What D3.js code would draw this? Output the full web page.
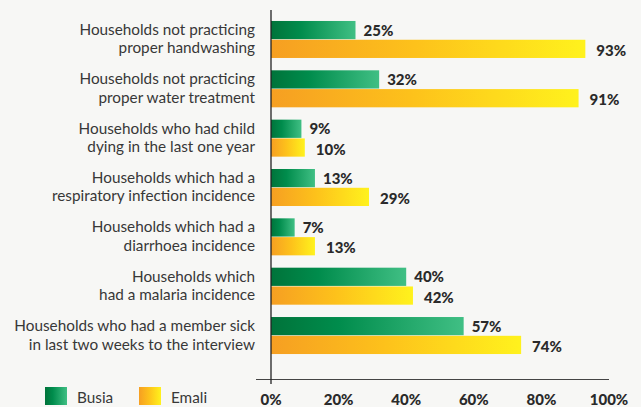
<!DOCTYPE html>
<html>
<head>
<meta charset="utf-8">
<script src="https://cdn.jsdelivr.net/npm/d3@7"></script>
<style>
  html, body { margin: 0; padding: 0; background: #f7f7f5; }
  svg { display: block; }
</style>
</head>
<body>
<script>
// Household health indicators, Busia vs Emali (percent of households)
const categories = [
  ["Households not practicing", "proper handwashing"],
  ["Households not practicing", "proper water treatment"],
  ["Households who had child", "dying in the last one year"],
  ["Households which had a", "respiratory infection incidence"],
  ["Households which had a", "diarrhoea incidence"],
  ["Households which", "had a malaria incidence"],
  ["Households who had a member sick", "in last two weeks to the interview"]
];
const busia = [25, 32, 9, 13, 7, 40, 57];
const emali = [93, 91, 10, 29, 13, 42, 74];
const seriesNames = ["Busia", "Emali"];
const xTicks = [0, 20, 40, 60, 80, 100];

const W = 641, H = 407;
const FONT = "Lato, 'Open Sans', sans-serif";
const TEXT = "#333";

const svg = d3.select("body").append("svg")
  .attr("width", W).attr("height", H);

svg.append("rect").attr("width", W).attr("height", H).attr("fill", "#f7f7f5");

const defs = svg.append("defs");
function gradient(id, stops) {
  const g = defs.append("linearGradient").attr("id", id)
    .attr("x1", "0%").attr("x2", "100%").attr("y1", "0%").attr("y2", "0%");
  stops.forEach(([o, c]) => g.append("stop").attr("offset", o).attr("stop-color", c));
}
gradient("gBusia", [["0%", "#00733a"], ["35%", "#008c4c"], ["100%", "#40bf84"]]);
gradient("gEmali", [["0%", "#f69f22"], ["45%", "#fdc11b"], ["100%", "#fff21d"]]);
const fills = ["url(#gBusia)", "url(#gEmali)"];

const x = d3.scaleLinear().domain([0, 100]).range([271, 609]);
const y = d3.scaleBand().domain(d3.range(categories.length))
  .range([14.8, 360.2]).paddingInner(0.25).paddingOuter(0.125);
const sub = d3.scaleBand().domain([0, 1]).range([0, y.bandwidth()]).paddingInner(0.03);

const rows = categories.map((c, i) => ({ i, label: c, values: [busia[i], emali[i]] }));

const g = svg.append("g");
const row = g.selectAll("g.row").data(rows).join("g")
  .attr("class", "row")
  .attr("transform", d => `translate(0,${y(d.i)})`);

// category labels, two lines, right aligned
row.append("text")
  .attr("x", 255)
  .attr("text-anchor", "end")
  .attr("font-family", FONT)
  .attr("font-size", 15.3)
  .attr("fill", "#383838")
  .selectAll("tspan").data(d => d.label).join("tspan")
  .attr("x", 255)
  .attr("y", (d, k) => y.bandwidth() / 2 - 4.5 + k * 18.5)
  .text(d => d);

const bars = row.selectAll("g.bar").data(d => d.values.map((v, s) => ({ v, s }))).join("g")
  .attr("class", "bar");

bars.append("rect")
  .attr("x", x(0))
  .attr("y", d => sub(d.s))
  .attr("width", d => x(d.v) - x(0))
  .attr("height", sub.bandwidth())
  .attr("fill", d => fills[d.s]);

bars.append("text")
  .attr("x", d => x(d.v) + (d.s === 0 ? 8 : 11))
  .attr("y", d => sub(d.s) + sub.bandwidth() / 2 + (d.s === 0 ? 5.5 : 7))
  .attr("font-family", FONT)
  .attr("font-weight", "900")
  .attr("font-size", 15)
  .attr("fill", "#2a2a2a")
  .text(d => d.v + "%");

// axes
svg.append("line")
  .attr("x1", 256).attr("x2", x(100))
  .attr("y1", 379.5).attr("y2", 379.5)
  .attr("stroke", "#444").attr("stroke-width", 1);
svg.append("line")
  .attr("x1", x(0)).attr("x2", x(0))
  .attr("y1", 10).attr("y2", 384)
  .attr("stroke", "#222").attr("stroke-width", 1.3);

svg.append("g").selectAll("text").data(xTicks).join("text")
  .attr("x", d => x(d))
  .attr("y", 405)
  .attr("text-anchor", "middle")
  .attr("font-family", FONT)
  .attr("font-weight", "900")
  .attr("font-size", 15)
  .attr("fill", "#2a2a2a")
  .text(d => d + "%");

// legend
const legend = svg.append("g").selectAll("g").data(seriesNames).join("g")
  .attr("transform", (d, i) => `translate(${45 + i * 94},387)`);
legend.append("rect")
  .attr("width", 22).attr("height", 18)
  .attr("fill", (d, i) => fills[i]);
legend.append("text")
  .attr("x", 32).attr("y", 16)
  .attr("font-family", FONT)
  .attr("font-size", 15.3)
  .attr("fill", "#383838")
  .text(d => d);
</script>
</body>
</html>
